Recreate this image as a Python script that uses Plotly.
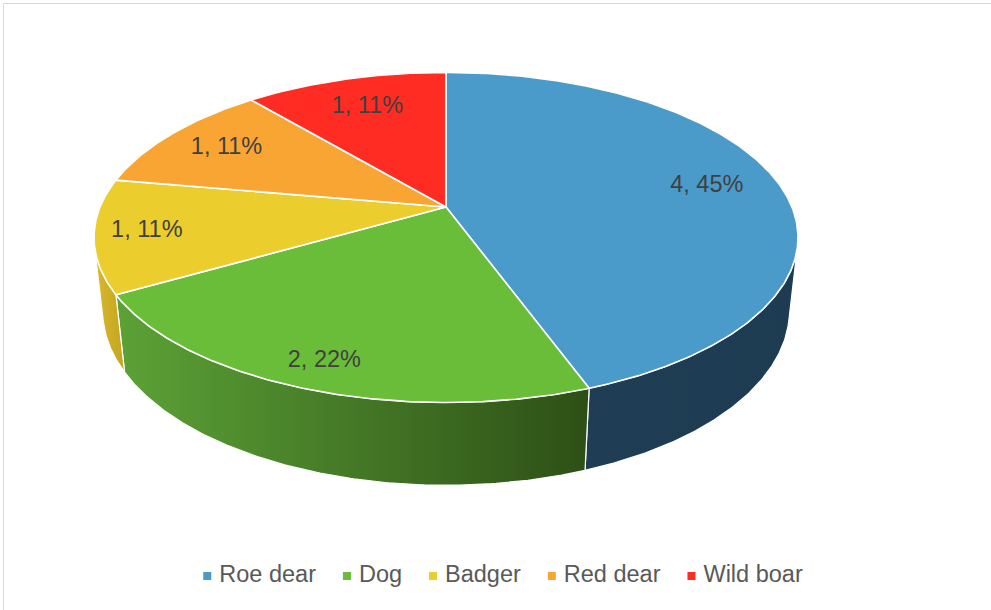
import numpy as np
import plotly.graph_objects as go

# ---------------- data ----------------
species = ["Roe dear", "Dog", "Badger", "Red dear", "Wild boar"]
counts = [4, 2, 1, 1, 1]
percent_labels = [45, 22, 11, 11, 11]

# ---------------- styling ----------------
top_colors = ["#4A9ACA", "#6ABD38", "#EBCD2E", "#F9A534", "#FE2C22"]
side_colors = [("#1F3D54", "#1D3B51"), ("#5CA236", "#2D4F16"),
               ("#D8B82C", "#C4A520"), ("#D88A20", "#C07818"),
               ("#D02018", "#B01810")]
label_pull = [0.79, 0.85, 0.85, 0.80, 0.78]
FONT = "Liberation Sans, Arial, sans-serif"
LABEL_SIZE = 23.5
LEGEND_SIZE = 23.5

W, H = 991, 610
CX, CY = 446, 207            # screen position of the pie centre
SIN_T = 0.47                 # camera elevation
COS_T = np.sqrt(1 - SIN_T ** 2)
DIST = 5.42 * COS_T          # camera distance (pie radius = 1)
FX, FY = 1655.0, 1623.0      # focal scales
THICK = 0.248                # pie thickness


def project(x, z, y=0.0):
    """Perspective projection of a point on the pie (radius 1) to screen px."""
    sy = y * COS_T - z * SIN_T
    w = DIST - z * COS_T - y * SIN_T
    return CX + FX * x / w, CY - FY * sy / w


def rim(a0, a1, y=0.0):
    """Rim points for angles a0..a1 (degrees, clockwise from the far point)."""
    n = max(2, int(abs(a1 - a0) * 2) + 1)
    r = np.radians(np.linspace(a0, a1, n))
    return project(np.sin(r), -np.cos(r), y)


total = sum(counts)
spans = [360.0 * c / total for c in counts]
starts = np.concatenate([[0.0], np.cumsum(spans)[:-1]])

# visible part of the outer wall (normal facing the camera)
z_sil = 1.0 / (DIST * COS_T)
vis_lo = np.degrees(np.arccos(-z_sil))
vis_hi = 360.0 - vis_lo

fig = go.Figure()

# outer walls
for i, (a0, sp) in enumerate(zip(starts, spans)):
    lo, hi = max(a0, vis_lo), min(a0 + sp, vis_hi)
    if hi <= lo:
        continue
    tx, ty = rim(lo, hi, 0.0)
    bx, by = rim(hi, lo, -THICK)
    xs = np.concatenate([tx, bx, tx[:1]])
    ys = np.concatenate([ty, by, ty[:1]])
    fig.add_trace(go.Scatter(
        x=xs, y=ys, mode="lines", fill="toself",
        fillgradient=dict(type="horizontal",
                          colorscale=[[0, side_colors[i][0]], [1, side_colors[i][1]]]),
        line=dict(color="white", width=1.2),
        hoverinfo="skip", showlegend=False))

# top face slices
for i, (a0, sp) in enumerate(zip(starts, spans)):
    rx, ry = rim(a0, a0 + sp, 0.0)
    xs = np.concatenate([[CX], rx, [CX]])
    ys = np.concatenate([[CY], ry, [CY]])
    fig.add_trace(go.Scatter(
        x=xs, y=ys, mode="lines", fill="toself", fillcolor=top_colors[i],
        line=dict(color="white", width=1.6),
        name=species[i], hoverinfo="name", showlegend=False))

# data labels
lx, ly, lt = [], [], []
for i, (a0, sp) in enumerate(zip(starts, spans)):
    mx, my = rim(a0 + sp / 2, a0 + sp / 2, 0.0)
    k = label_pull[i]
    lx.append(CX + k * (mx[0] - CX))
    ly.append(CY + k * (my[0] - CY))
    lt.append(f"{counts[i]}, {percent_labels[i]}%")
fig.add_trace(go.Scatter(
    x=lx, y=ly, mode="text", text=lt, textposition="middle center",
    textfont=dict(family=FONT, size=LABEL_SIZE, color="#404040"),
    hoverinfo="skip", showlegend=False))

# legend row: square swatch followed by the series name
ADV = {"R": .722, "o": .556, "e": .556, " ": .278, "d": .556, "a": .556,
       "r": .333, "D": .722, "g": .556, "B": .667, "W": .944, "i": .222,
       "l": .222, "b": .556}
text_w = [sum(ADV.get(ch, .556) for ch in s) * LEGEND_SIZE for s in species]
SWATCH_GAP, ITEM_GAP, LEG_CX, LEG_Y = 12, 31, 505, 576
row_w = sum(SWATCH_GAP + t for t in text_w) + ITEM_GAP * (len(species) - 1)
x = LEG_CX - row_w / 2
mk_x, tx_x = [], []
for t in text_w:
    mk_x.append(x)
    tx_x.append(x + SWATCH_GAP)
    x += SWATCH_GAP + t + ITEM_GAP
fig.add_trace(go.Scatter(
    x=mk_x, y=[LEG_Y] * len(species), mode="markers",
    marker=dict(symbol="square", size=8, color=top_colors),
    hoverinfo="skip", showlegend=False))
fig.add_trace(go.Scatter(
    x=tx_x, y=[LEG_Y] * len(species), mode="text", text=species,
    textposition="middle right",
    textfont=dict(family=FONT, size=LEGEND_SIZE, color="#595959"),
    hoverinfo="skip", showlegend=False))

fig.update_layout(
    width=W, height=H,
    margin=dict(l=0, r=0, t=0, b=0),
    paper_bgcolor="white", plot_bgcolor="white",
    xaxis=dict(range=[0, W], visible=False, fixedrange=True),
    yaxis=dict(range=[H, 0], visible=False, fixedrange=True),
    showlegend=False,
    shapes=[dict(type="rect", xref="paper", yref="paper",
                 x0=3.5 / W, x1=1.05, y0=-0.05, y1=1 - 3.5 / H,
                 line=dict(color="#D9D9D9", width=1))],
)

fig.write_html("out.html")
